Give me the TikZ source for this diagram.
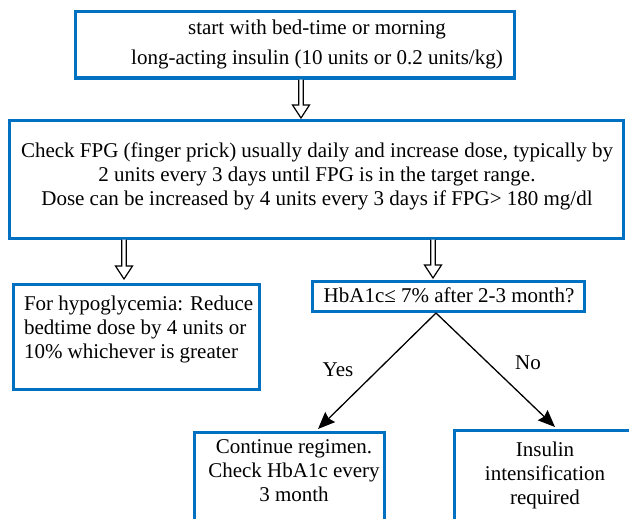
\documentclass[tikz,border=0pt]{standalone}
\usepackage{fontspec}
\setmainfont{Liberation Serif}
\usetikzlibrary{arrows.meta,calc}
\definecolor{boxblue}{RGB}{0,112,192}
\tikzset{
  box/.style={draw=boxblue, line width=3pt, inner sep=0pt, outer sep=0pt, rectangle},
  txt/.style={font=\fontsize{21}{24}\selectfont, inner sep=0pt, outer sep=0pt, align=center, anchor=base},
  hollow/.style={draw=black, line width=1.2pt, fill=white, line join=miter},
  yn/.style={draw=black, line width=1.3pt, -{Stealth[length=17pt,width=14pt,inset=2pt]}}
}
\newcommand\hollowarrow[2]{%
  \draw[hollow] let \p1=(#1), \p2=(#2) in
    (\x1-2.3pt,\y1) -- (\x1-2.3pt,\y2+13pt) -- (\x1-8.5pt,\y2+13pt) -- (\x2,\y2)
    -- (\x1+8.5pt,\y2+13pt) -- (\x1+2.3pt,\y2+13pt) -- (\x1+2.3pt,\y1);
}
\begin{document}
\begin{tikzpicture}[x=1pt,y=-1pt]
\clip (0,0) rectangle (629,519);
\fill[white] (0,0) rectangle (629,519);

% boxes
\node[box, minimum width=439pt, minimum height=66pt] (start) at (294.5,45) {};
\node[txt, font=\fontsize{21}{29}\selectfont] (startt) at (317,64)
  {start with bed-time or morning\\long-acting insulin (10 units or 0.2 units/kg)};

\node[box, minimum width=614pt, minimum height=118pt] (fpg) at (316,179) {};
\node[txt] (fpgt) at (317,205)
  {Check FPG (finger prick) usually daily and increase dose, typically by\\2 units every 3 days until FPG is in the target range.\\Dose can be increased by 4 units every 3 days if FPG> 180 mg/dl};

\node[box, minimum width=246pt, minimum height=105pt] (hypo) at (136,336.5) {};
\node[txt, align=left, anchor=base west] (hypot) at (24,358)
  {For hypoglycemia: Reduce\\bedtime dose by 4 units or\\10\% whichever is greater};

\node[box, minimum width=272pt, minimum height=30pt] (hba) at (448,296) {};
\node[txt] (hbat) at (449,302) {HbA1c≤ 7\% after 2-3 month?};

\node[box, minimum width=190pt, minimum height=120pt] (cont) at (289,492) {};
\node[txt] (contt) at (294,501) {Continue regimen.\\Check HbA1c every\\3 month};

\node[box, minimum width=200pt, minimum height=120pt] (intens) at (554,490) {};
\node[txt] (intt) at (545,504) {Insulin\\intensification\\required};

% hollow arrows
\coordinate (a1) at (301,0);
\coordinate (a2) at (124,0);
\coordinate (a3) at (433,0);
\path ($(a1 |- start.south)+(0,1.5)$) coordinate (a1s) ($(a1 |- fpg.north)+(0,-2)$) coordinate (a1e);
\path ($(a2 |- fpg.south)+(0,1.5)$) coordinate (a2s) ($(a2 |- hypo.north)+(0,-5)$) coordinate (a2e);
\path ($(a3 |- fpg.south)+(0,1.5)$) coordinate (a3s) ($(a3 |- hba.north)+(0,-3)$) coordinate (a3e);
\hollowarrow{a1s}{a1e}
\hollowarrow{a2s}{a2e}
\hollowarrow{a3s}{a3e}

% decision arrows
\path ($(hba.south)+(-12,2)$) coordinate (apex);
\path (cont.north) ++(29,-3) coordinate (yt);
\path (intens.north) ++(1,-3) coordinate (nt);
\draw[yn] (apex) -- (yt);
\draw[yn] (apex) -- (nt);
\node[txt, anchor=center] (yes) at (338,370) {Yes};
\node[txt, anchor=center] (no) at (528,363) {No};
\end{tikzpicture}
\end{document}
